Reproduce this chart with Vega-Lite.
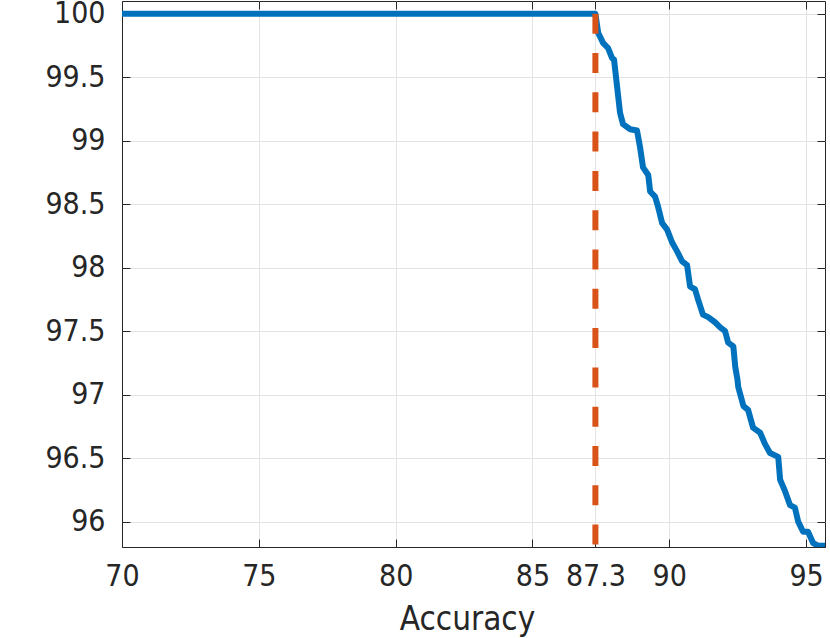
{
  "$schema": "https://vega.github.io/schema/vega-lite/v6.json",
  "width": 703,
  "height": 546,
  "autosize": {"type": "none"},
  "padding": {"left": 122, "top": 1, "right": 5, "bottom": 91},
  "config": {
    "view": {"stroke": "#262626", "strokeWidth": 1},
    "axis": {
      "labelFont": "DejaVu Sans Condensed",
      "titleFont": "DejaVu Sans Condensed",
      "labelFontSize": 30,
      "titleFontSize": 33,
      "labelColor": "#262626",
      "titleColor": "#262626",
      "titleFontWeight": "normal",
      "gridColor": "#e3e3e3",
      "gridOpacity": 1,
      "domainColor": "#262626",
      "tickColor": "#262626",
      "labelFlush": false,
      "labelOverlap": false,
      "format": ".4~g"
    }
  },
  "datasets": {
    "curve": [
      {"acc": 70, "val": 100},
      {"acc": 87.3, "val": 100},
      {"acc": 87.4, "val": 99.85},
      {"acc": 87.58, "val": 99.77},
      {"acc": 87.76, "val": 99.73},
      {"acc": 87.91, "val": 99.65},
      {"acc": 87.98, "val": 99.64},
      {"acc": 88.09, "val": 99.43},
      {"acc": 88.2, "val": 99.22},
      {"acc": 88.31, "val": 99.13},
      {"acc": 88.57, "val": 99.09},
      {"acc": 88.82, "val": 99.08},
      {"acc": 88.93, "val": 98.95},
      {"acc": 89.04, "val": 98.79},
      {"acc": 89.23, "val": 98.73},
      {"acc": 89.3, "val": 98.6},
      {"acc": 89.48, "val": 98.56},
      {"acc": 89.59, "val": 98.48},
      {"acc": 89.74, "val": 98.35},
      {"acc": 89.92, "val": 98.3},
      {"acc": 90.1, "val": 98.2},
      {"acc": 90.28, "val": 98.13},
      {"acc": 90.47, "val": 98.05},
      {"acc": 90.65, "val": 98.02},
      {"acc": 90.76, "val": 97.85},
      {"acc": 90.94, "val": 97.83},
      {"acc": 91.05, "val": 97.75},
      {"acc": 91.23, "val": 97.63},
      {"acc": 91.42, "val": 97.61},
      {"acc": 91.67, "val": 97.57},
      {"acc": 91.86, "val": 97.53},
      {"acc": 92.04, "val": 97.5},
      {"acc": 92.15, "val": 97.41},
      {"acc": 92.34, "val": 97.38},
      {"acc": 92.41, "val": 97.22},
      {"acc": 92.49, "val": 97.12},
      {"acc": 92.52, "val": 97.06},
      {"acc": 92.71, "val": 96.91},
      {"acc": 92.88, "val": 96.88},
      {"acc": 93.06, "val": 96.74},
      {"acc": 93.32, "val": 96.7},
      {"acc": 93.5, "val": 96.61},
      {"acc": 93.68, "val": 96.54},
      {"acc": 93.98, "val": 96.51},
      {"acc": 94.05, "val": 96.33},
      {"acc": 94.23, "val": 96.24},
      {"acc": 94.41, "val": 96.13},
      {"acc": 94.59, "val": 96.11},
      {"acc": 94.71, "val": 96.0},
      {"acc": 94.89, "val": 95.92},
      {"acc": 95.07, "val": 95.92},
      {"acc": 95.26, "val": 95.83},
      {"acc": 95.44, "val": 95.81},
      {"acc": 95.69, "val": 95.81}
    ],
    "cut": [
      {"acc": 87.3, "top": 100, "bottom": 95.8}
    ]
  },
  "layer": [
    {
      "data": {"name": "curve"},
      "mark": {"type": "line", "color": "#0072BD", "strokeWidth": 6, "clip": true, "strokeJoin": "round"},
      "encoding": {
        "x": {
          "field": "acc", "type": "quantitative",
          "scale": {"domain": [70, 95.69], "nice": false, "zero": false},
          "axis": {"values": [70, 75, 80, 85, 87.3, 90, 95], "title": "Accuracy", "labelPadding": 22, "titlePadding": 12, "titleX": 345, "grid": true, "ticks": true, "tickSize": -8, "tickWidth": 1}
        },
        "y": {
          "field": "val", "type": "quantitative",
          "scale": {"domain": [95.8, 100.1], "nice": false, "zero": false},
          "axis": {"values": [96, 96.5, 97, 97.5, 98, 98.5, 99, 99.5, 100], "title": null, "labelPadding": 25, "grid": true, "ticks": true, "tickSize": -8, "tickWidth": 1}
        }
      }
    },
    {
      "data": {"name": "cut"},
      "mark": {"type": "rule", "color": "#D95319", "strokeWidth": 6, "strokeDash": [20, 19.3], "strokeCap": "butt"},
      "encoding": {
        "x": {"field": "acc", "type": "quantitative", "axis": null},
        "y": {"field": "top", "type": "quantitative", "axis": null},
        "y2": {"field": "bottom"}
      }
    },
    {
      "data": {"name": "cut"},
      "mark": {"type": "point", "opacity": 0},
      "encoding": {
        "x": {
          "field": "acc", "type": "quantitative",
          "axis": {"orient": "top", "values": [70, 75, 80, 85, 87.3, 90, 95], "labels": false, "grid": false, "domain": false, "title": null, "ticks": true, "tickSize": -8, "tickWidth": 1}
        },
        "y": {
          "field": "top", "type": "quantitative",
          "axis": {"orient": "right", "values": [96, 96.5, 97, 97.5, 98, 98.5, 99, 99.5, 100], "labels": false, "grid": false, "domain": false, "title": null, "ticks": true, "tickSize": -8, "tickWidth": 1}
        }
      }
    }
  ],
  "resolve": {"axis": {"x": "independent", "y": "independent"}}
}
